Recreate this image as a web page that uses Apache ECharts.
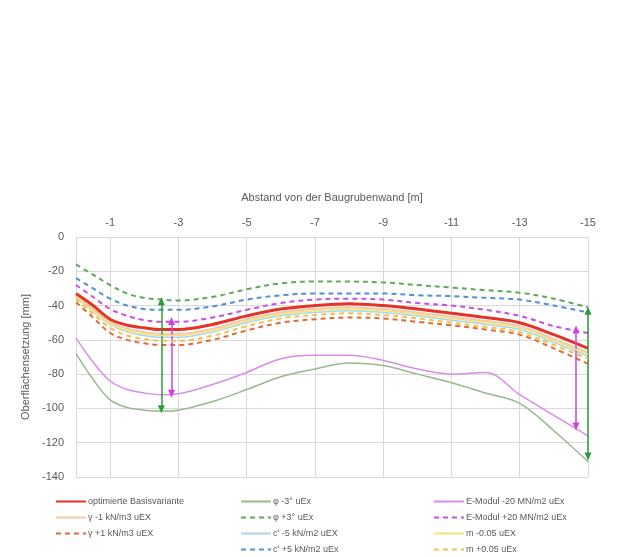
<!DOCTYPE html>
<html>
<head>
<meta charset="utf-8">
<script src="https://cdn.jsdelivr.net/npm/echarts@6/dist/echarts.min.js"></script>
<style>
  html, body { margin: 0; padding: 0; background: #ffffff; }
  #chart { width: 627px; height: 557px; }
</style>
</head>
<body>
<div id="chart"></div>
<script>
// Distance from the excavation wall [m] (negative = away from the wall)
const distances = [0, -0.5, -1, -1.5, -2, -2.5, -3, -4, -5, -6, -7, -8, -9, -10, -11, -12, -13, -14, -15];

// Surface settlement [mm] per variant
const basis      = [-33, -40, -48, -51.5, -53, -54, -54, -51, -46, -42, -40, -39, -40, -42, -44.5, -47, -50, -57, -65];
const gammaMinus = [-34, -42, -49.5, -53.5, -55.5, -56.5, -56.5, -53.5, -48, -44, -42, -41, -42, -44, -46.5, -49, -52, -59.5, -67.5];
const gammaPlus  = [-38, -47, -56, -60, -62, -63, -63, -60, -54.5, -50, -48, -47, -47.5, -49.5, -51.5, -54, -57, -65, -74];
const phiMinus   = [-68, -83, -95, -99.5, -101, -101.5, -101, -96, -89, -81.5, -77, -73.5, -75, -80, -85, -91, -97, -113, -131];
const phiPlus    = [-16, -22, -28, -33, -35.5, -36.5, -37, -35, -30.5, -27, -26, -26, -26.5, -28, -29.5, -31, -32.5, -36, -41];
const cMinus     = [-35, -43.5, -51, -55.5, -57.5, -58.5, -58.5, -55.5, -50, -46, -44, -43, -44, -46, -48.5, -51, -54, -61.5, -69.5];
const cPlus      = [-24, -30, -36, -40, -42, -42.5, -42.5, -40.5, -36.5, -34, -33, -33, -33, -34, -34.5, -35.5, -36.5, -40, -44];
const eMinus     = [-59, -73, -84, -89, -91, -92, -91.5, -86, -79, -71, -69, -69, -72, -77, -80, -79, -92, -104, -116];
const ePlus      = [-28, -35, -42, -46, -48.5, -49.5, -49.5, -47, -42.5, -38.5, -36.5, -36, -36.5, -38.5, -40, -42.5, -46, -52, -56];
const mMinus     = [-35, -43, -50.5, -54.5, -56.5, -57.5, -57.5, -54.5, -49, -45, -43, -42, -43, -45, -47.5, -50, -53, -60.5, -68.5];
const mPlus      = [-36, -45, -53, -57.5, -59.5, -60.5, -60.5, -57.5, -52, -47.5, -45.5, -44.5, -45.5, -47.5, -50, -52.5, -55.5, -63, -71];

// Spread arrows: [distance, upper settlement, lower settlement]
const arrowsPhi = [[-2.5, -37.5, -100.5], [-15, -43, -128]];
const arrowsE   = [[-2.8, -49, -91.5], [-14.65, -54, -110.5]];

// Axis ticks
const xTicks = [-1, -3, -5, -7, -9, -11, -13, -15];
const yTicks = [0, -20, -40, -60, -80, -100, -120, -140];

const names = {
  basis: 'optimierte Basisvariante',
  gammaMinus: 'γ -1 kN/m3 uEX',
  gammaPlus: 'γ +1 kN/m3 uEX',
  phiMinus: 'φ -3° uEx',
  phiPlus: 'φ +3° uEx',
  cMinus: "c' -5 kN/m2 uEX",
  cPlus: "c' +5 kN/m2 uEx",
  eMinus: 'E-Modul -20 MN/m2 uEx',
  ePlus: 'E-Modul +20 MN/m2 uEx',
  mMinus: 'm -0.05 uEX',
  mPlus: 'm +0.05 uEx'
};

const FONT = '"Liberation Sans", Arial, sans-serif';
const TXT = '#595959';

function pairs(values) {
  return distances.map((d, i) => [d, values[i]]);
}

function lineSeries(name, values, color, width, dashed, z) {
  return {
    name: name,
    type: 'line',
    data: pairs(values),
    symbol: 'none',
    showSymbol: false,
    smooth: 0.35,
    z: z,
    lineStyle: { color: color, width: width, type: dashed ? [5, 4] : 'solid' },
    itemStyle: { color: color },
    emphasis: { disabled: true }
  };
}

function arrowSeries(list, color) {
  return {
    type: 'line',
    data: [],
    silent: true,
    z: 10,
    markLine: {
      silent: true,
      symbol: ['triangle', 'triangle'],
      symbolSize: [7, 8],
      label: { show: false },
      lineStyle: { color: color, width: 1.5, type: 'solid' },
      emphasis: { disabled: true },
      data: list.map(a => [{ coord: [a[0], a[1]] }, { coord: [a[0], a[2]] }])
    }
  };
}

const chart = echarts.init(document.getElementById('chart'), null, { renderer: 'canvas' });

const legendBase = {
  orient: 'vertical',
  top: 497,
  height: 60,
  itemWidth: 30,
  itemHeight: 10,
  itemGap: 7,
  padding: 0,
  selectedMode: false,
  itemStyle: { opacity: 0 },
  textStyle: { fontFamily: FONT, fontSize: 9, color: TXT, padding: [0, 0, 0, -3] }
};

chart.setOption({
  backgroundColor: '#ffffff',
  animation: false,
  textStyle: { fontFamily: FONT },
  grid: { left: 76, right: 39, top: 237, bottom: 80, containLabel: false },
  legend: [
    Object.assign({}, legendBase, { left: 55, data: [names.basis, names.gammaMinus, names.gammaPlus] }),
    Object.assign({}, legendBase, { left: 240, data: [names.phiMinus, names.phiPlus, names.cMinus, names.cPlus] }),
    Object.assign({}, legendBase, { left: 433, data: [names.eMinus, names.ePlus, names.mMinus, names.mPlus] })
  ],
  xAxis: {
    type: 'value',
    position: 'top',
    inverse: true,
    min: -15,
    max: 0,
    interval: 1,
    name: 'Abstand von der Baugrubenwand [m]',
    nameLocation: 'middle',
    nameGap: 34,
    nameTextStyle: { fontFamily: FONT, fontSize: 11, color: TXT },
    axisLine: { show: false },
    axisTick: { show: false },
    axisLabel: {
      margin: 9,
      fontFamily: FONT, fontSize: 11, color: TXT,
      formatter: v => (xTicks.indexOf(v) >= 0 ? String(v) : '')
    },
    splitLine: { show: true, lineStyle: { color: ['#d9d9d9', 'rgba(0,0,0,0)'], width: 1 } }
  },
  yAxis: {
    type: 'value',
    min: -140,
    max: 0,
    interval: 20,
    name: 'Oberflächensetzung [mm]',
    nameLocation: 'middle',
    nameGap: 45,
    nameTextStyle: { fontFamily: FONT, fontSize: 11, color: TXT },
    axisLine: { show: true, lineStyle: { color: '#d9d9d9', width: 1 } },
    axisTick: { show: false },
    axisLabel: {
      margin: 12,
      fontFamily: FONT, fontSize: 11, color: TXT,
      formatter: v => (yTicks.indexOf(v) >= 0 ? String(v) : '')
    },
    splitLine: { show: true, lineStyle: { color: '#d9d9d9', width: 1 } }
  },
  series: [
    lineSeries(names.cMinus, cMinus, '#a6d8ee', 1.5, false, 2),
    lineSeries(names.gammaMinus, gammaMinus, '#f8c8a8', 2, false, 3),
    lineSeries(names.basis, basis, '#e3342a', 3, false, 4),
    lineSeries(names.gammaPlus, gammaPlus, '#df6a3c', 2, true, 3),
    lineSeries(names.phiMinus, phiMinus, '#98b890', 1.5, false, 3),
    lineSeries(names.phiPlus, phiPlus, '#5eaa58', 2, true, 3),
    lineSeries(names.cPlus, cPlus, '#4f8fd4', 2, true, 3),
    lineSeries(names.eMinus, eMinus, '#db8ce9', 1.5, false, 3),
    lineSeries(names.ePlus, ePlus, '#c44fe4', 2, true, 3),
    lineSeries(names.mMinus, mMinus, '#f2e47a', 1.5, false, 5),
    lineSeries(names.mPlus, mPlus, '#f4c24c', 2, true, 5),
    arrowSeries(arrowsPhi, '#2f9a3c'),
    arrowSeries(arrowsE, '#cc44dd')
  ]
});
</script>
</body>
</html>
